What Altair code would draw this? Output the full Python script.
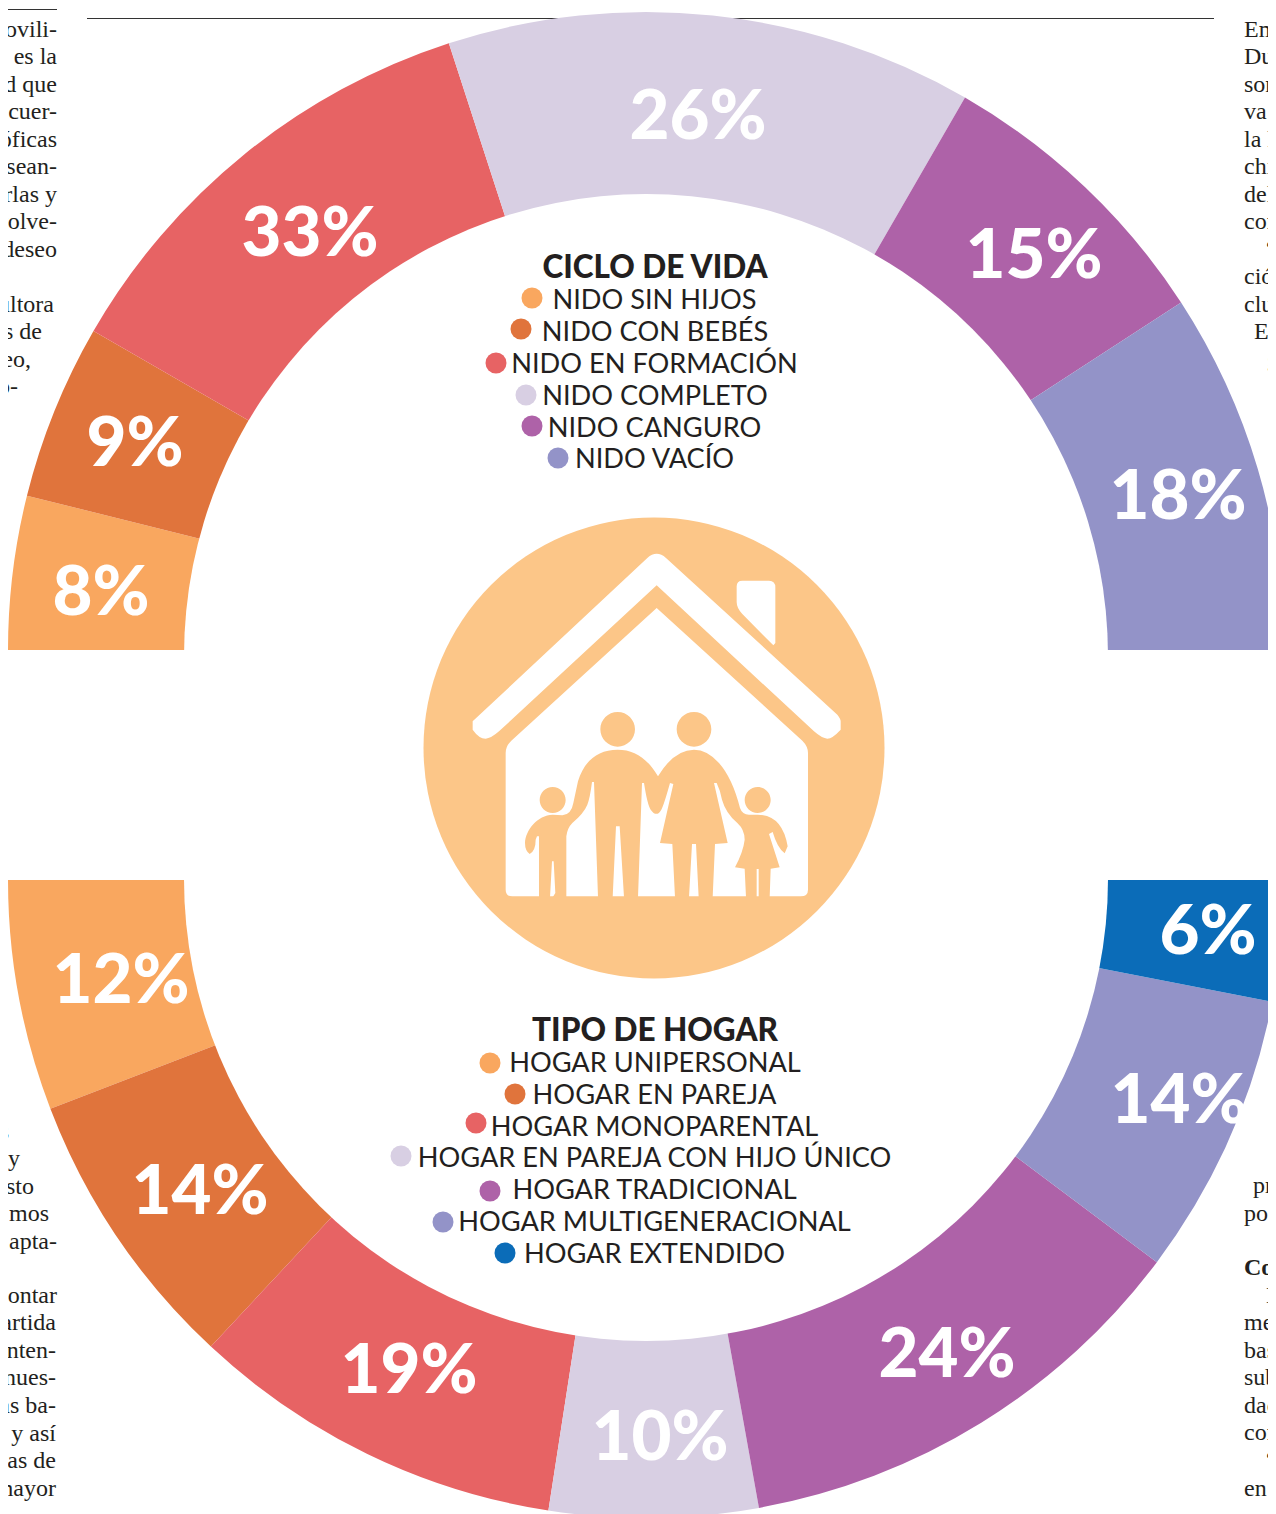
import re
import altair as alt
import pandas as pd

# ---- data ----
top_labels = ["8%", "9%", "33%", "26%", "15%", "18%"]
top_spans = [14, 16, 42, 48, 27, 33]          # degrees, clockwise from the left
top_colors = ["#F9A75F", "#E0743C", "#E76364", "#D8CFE3", "#AE62A8", "#9393C8"]
top_lx = [101, 135, 310, 698, 1034, 1178]
top_ly = [590, 441, 231, 114, 253, 494]

bot_labels = ["12%", "14%", "19%", "10%", "24%", "14%", "6%"]
bot_spans = [21, 26, 34.2, 19, 43, 25.8, 11]  # degrees, counter-clockwise from the left
bot_colors = ["#F9A75F", "#E0743C", "#E76364", "#D8CFE3", "#AE62A8", "#9393C8", "#0B6CB8"]
bot_lx = [121, 200, 409, 660, 947, 1179, 1208]
bot_ly = [978, 1189, 1368, 1435, 1352, 1098, 929]

top_title = "CICLO DE VIDA"
top_items = ["NIDO SIN HIJOS", "NIDO CON BEBÉS", "NIDO EN FORMACIÓN", "NIDO COMPLETO", "NIDO CANGURO", "NIDO VACÍO"]
top_item_x = [654.5, 655, 654.5, 655, 654.5, 654.5]
top_item_y = [299, 331, 363, 395, 427, 458]
top_dot_x = [532, 521, 496, 526, 532, 558]
top_dot_y = [298, 329, 363, 395, 426, 458]

bot_title = "TIPO DE HOGAR"
bot_items = ["HOGAR UNIPERSONAL", "HOGAR EN PAREJA", "HOGAR MONOPARENTAL", "HOGAR EN PAREJA CON HIJO ÚNICO",
             "HOGAR TRADICIONAL", "HOGAR MULTIGENERACIONAL", "HOGAR EXTENDIDO"]
bot_item_x = [655, 654.5, 654.5, 654.5, 654.5, 654.5, 654.5]
bot_item_y = [1062, 1094, 1126, 1157, 1189, 1221, 1253]
bot_dot_x = [490, 515, 476, 401, 490, 443, 505]
bot_dot_y = [1063, 1094, 1123, 1156, 1191, 1222, 1253]

left_text = ["ovili-", "o es la", "d que", "cuer-", "óficas", "esean-", "erlas y", "volve-", "deseo",
             "ultora", "s de", "eo,", "p-",
             "s", "s y", "esto", "mos", "apta-", "ontar", "artida", "nten-", "nues-", "as ba-",
             "s, y así", "cas de", "mayor"]
left_y = [30, 57, 85, 112, 140, 167, 195, 222, 250, 305, 332, 360, 387,
          1132, 1159, 1187, 1214, 1242, 1296, 1323, 1351, 1378, 1406, 1434, 1461, 1489]
left_x = [57, 57, 57, 57, 57, 57, 57, 57, 57, 54, 42, 31, 18,
          9, 20, 34, 49, 57, 57, 56, 56, 56, 56, 56, 56, 56]

right_text = ["Em", "Du", "son", "va s", "la h", "chi", "del", "con", "“A", "ció", "clu", "E,", "g",
              "t", "pr", "pos", "L", "me", "bas", "sub", "dac", "con", "“", "en e"]
right_y = [30, 57, 85, 112, 140, 167, 195, 222, 250, 277, 305, 332, 360,
           1159, 1186, 1214, 1296, 1323, 1351, 1378, 1406, 1433, 1461, 1489]
right_x = [1244, 1244, 1244, 1244, 1244, 1244, 1244, 1244, 1266, 1244, 1244, 1254, 1267,
           1268, 1253, 1244, 1266, 1244, 1244, 1244, 1244, 1244, 1266, 1244]

# ---- page geometry (reference pixels) ----
W, H = 1260, 1506
xs = alt.Scale(domain=[8, 8 + W], range=[0, W])
ys = alt.Scale(domain=[8, 8 + H], range=[0, H])
X = lambda f="x": alt.X(f"{f}:Q", scale=xs, axis=None)
Y = lambda f="y": alt.Y(f"{f}:Q", scale=ys, axis=None)

# ---- sectors ----
rows = []
a = 0
for lab, sp, c in zip(top_labels, top_spans, top_colors):
    rows.append(dict(t1=a, t2=a + sp, x=646, y=650, c=c, lab=lab))
    a += sp
a = 360
for lab, sp, c in zip(bot_labels, bot_spans, bot_colors):
    rows.append(dict(t1=a, t2=a - sp, x=646, y=880, c=c, lab=lab))
    a -= sp
sectors = pd.DataFrame(rows)
PI = 3.14159265
ring = alt.Chart(sectors).mark_arc(radius=638, radius2=430).encode(
    x=X(), y=Y(),
    theta=alt.Theta("t1:Q", scale=alt.Scale(domain=[0, 360], range=[-PI / 2, 3 * PI / 2]), stack=None),
    theta2="t2:Q",
    color=alt.Color("c:N", scale=None),
)
# the inner edge of each half ring, as printed
holes = alt.Chart(pd.DataFrame({"x": [646, 646], "y": [656, 879]})).mark_circle(
    size=(2 * 462) ** 2, color="white", opacity=1).encode(x=X(), y=Y())

def texts(xv, yv, tv, **kw):
    df = pd.DataFrame({"x": xv, "y": yv, "t": tv})
    kw.setdefault("baseline", "middle")
    return alt.Chart(df).mark_text(**kw).encode(x=X(), y=Y(), text="t:N")

pct = texts(top_lx + bot_lx, top_ly + bot_ly, top_labels + bot_labels, dy=4,
            font="Lato", fontWeight=900, fontSize=69, color="white", align="center")

def dots(xv, yv, cv):
    df = pd.DataFrame({"x": xv, "y": yv, "c": cv})
    return alt.Chart(df).mark_circle(size=441, opacity=1).encode(
        x=X(), y=Y(), color=alt.Color("c:N", scale=None))

INK = "#231F20"
legend = [
    texts([655], [266], [top_title], dy=3, font="Lato", fontWeight=900, fontSize=31.5, color=INK, align="center"),
    texts(top_item_x, top_item_y, top_items, dy=2, font="Lato", fontWeight=400, fontSize=27.2, color=INK, align="center"),
    dots(top_dot_x, top_dot_y, top_colors),
    texts([655], [1029], [bot_title], dy=3, font="Lato", fontWeight=900, fontSize=31.5, color=INK, align="center"),
    texts(bot_item_x, bot_item_y, bot_items, dy=2, font="Lato", fontWeight=400, fontSize=27.2, color=INK, align="center"),
    dots(bot_dot_x, bot_dot_y, bot_colors),
]

# ---- newspaper column fragments and rules ----
col_l = texts(left_x, left_y, left_text, font="Liberation Serif", fontSize=24, color=INK, align="right")
col_r = texts(right_x, right_y, right_text, font="Liberation Serif", fontSize=24, color=INK, align="left")
col_b = texts([1244], [1268], ["Con"], font="Liberation Serif", fontWeight=700, fontSize=24, color=INK, align="left")
rules = alt.Chart(pd.DataFrame({"x": [87, 8], "x2": [1214, 57], "y": [18.5, 9.5]})).mark_rule(
    color="#333333", strokeWidth=1).encode(x=X(), x2="x2:Q", y=Y())

# ---- centre badge: house and family ----
def disc(cx, cy, r):
    k = 0.5523 * r
    return (f"M{cx-r} {cy} C{cx-r} {cy-k} {cx-k} {cy-r} {cx} {cy-r} C{cx+k} {cy-r} {cx+r} {cy-k} {cx+r} {cy} "
            f"C{cx+r} {cy+k} {cx+k} {cy+r} {cx} {cy+r} C{cx-k} {cy+r} {cx-r} {cy+k} {cx-r} {cy} Z ")

def centred(path):
    return re.sub(r"\d+\.?\d*", lambda m: f"{float(m.group()) - 700:.1f}", path)

house = centred(
    "M156 620 L680 130 Q708 105 736 130 L1250 600 Q1260 612 1260 620 L1260 645 Q1235 672 1220 672 "
    "Q1205 672 1180 650 L708 212 L235 650 Q210 672 195 672 Q175 672 156 645 Z "
    "M948 215 Q948 198 965 198 L1045 198 Q1064 198 1064 218 L1064 385 L1058 392 L965 298 Q948 280 948 262 Z "
    "M708 280 L1145 678 Q1162 695 1162 715 L1162 1125 Q1162 1145 1140 1145 L275 1145 Q255 1145 255 1125 "
    "L255 715 Q255 695 272 678 Z"
)
family = centred(
    disc(591, 644, 52) + disc(820, 644, 52) + disc(396, 856, 39) + disc(1011, 856, 39) +
    "M396 900 C350 902 315 945 313 985 Q313 1008 327 1018 Q345 1008 345 975 L349 965 L355 965 L355 1148 "
    "L388 1148 L394 1040 L399 1040 L404 1135 L396 1148 L437 1148 L437 965 Q440 940 455 925 Q490 895 500 870 "
    "Q508 850 514 802 L520 802 L532 1148 L576 1148 L586 935 L597 935 L610 1148 L652 1148 L664 805 L670 805 "
    "Q680 870 690 885 Q708 910 722 885 Q730 870 748 805 L758 808 L718 985 L755 988 L763 1148 L805 1148 "
    "L814 988 L826 988 L834 1148 L876 1148 L883 988 L921 985 L880 805 L888 805 Q900 830 904 855 "
    "Q915 895 950 925 Q972 945 972 975 Q968 1010 943 1058 L972 1062 L976 1148 L1008 1148 L1008 1063 "
    "L1014 1063 L1014 1148 L1047 1148 L1050 1062 L1077 1058 L1045 958 L1056 952 Q1070 1000 1092 1016 "
    "L1101 995 Q1085 900 1011 900 L985 900 Q965 900 958 880 Q935 790 895 745 Q860 705 820 705 "
    "Q760 705 712 785 C680 730 640 705 591 705 C530 705 490 740 472 800 L458 865 Q452 900 425 902 Z"
)
BADGE = "#FCC688"
centre = pd.DataFrame({"x": [654], "y": [748]})
badge = alt.Chart(centre).mark_circle(size=(2 * 230.5) ** 2, color=BADGE, opacity=1).encode(x=X(), y=Y())
icon_scale = (2 / 3) ** 2   # path units are 1/3 pixel
house_m = alt.Chart(centre).mark_point(shape=house, size=icon_scale, filled=True, fill="white", opacity=1,
                                        strokeWidth=0).encode(x=X(), y=Y())
family_m = alt.Chart(centre).mark_point(shape=family, size=icon_scale, filled=True, fill=BADGE, opacity=1,
                                         strokeWidth=0).encode(x=X(), y=Y())

chart = alt.layer(
    rules, ring, holes, col_l, col_r, col_b, pct, *legend, badge, house_m, family_m
).properties(
    width=W, height=H, padding=0, background="white",
    autosize=alt.AutoSizeParams(type="none", contains="padding"),
).configure_view(stroke=None)

chart.save("out.html", embed_options={"renderer": "svg", "actions": False})
